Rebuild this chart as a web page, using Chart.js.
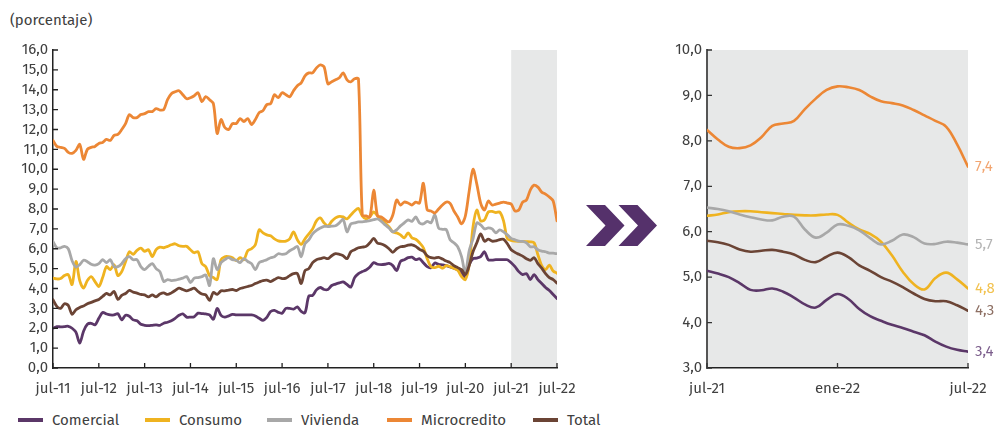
<!DOCTYPE html>
<html><head><meta charset="utf-8">
<script src="https://cdn.jsdelivr.net/npm/chart.js@4/dist/chart.umd.min.js"></script>
<style>
html,body{margin:0;padding:0;background:#fff;}
body{width:997px;height:427px;position:relative;overflow:hidden;font-family:"Fira Sans","Noto Sans",sans-serif;color:#404040;}
#unit{position:absolute;left:10px;top:11px;font-size:15px;line-height:18px;white-space:nowrap;}
#cl{position:absolute;left:0;top:0;}
#cr{position:absolute;left:640px;top:0;}
#legend{position:absolute;left:0;top:410px;height:20px;width:997px;font-size:15px;}
.item{position:absolute;top:0;height:20px;line-height:20px;white-space:nowrap;}
.sw{position:absolute;top:8px;left:0;width:25px;height:4px;}
.tx{position:absolute;top:0;left:34px;}
#chev{position:absolute;left:0;top:0;}
</style></head><body>
<div id="unit">(porcentaje)</div>
<svg id="chev" width="997" height="427">
<polygon points="586,205 605,205 624.5,225.5 605,246 586,246 605.5,225.5" fill="#55316b"/>
<polygon points="618.5,205 637.5,205 657,225.5 637.5,246 618.5,246 638,225.5" fill="#55316b"/>
</svg>
<canvas id="cl" width="595" height="400"></canvas>
<canvas id="cr" width="357" height="400"></canvas>
<div id="legend"></div>
<script>
const leftTickLabels = ['jul-11','jul-12','jul-13','jul-14','jul-15','jul-16','jul-17','jul-18','jul-19','jul-20','jul-21','jul-22'];
const rightTickLabels = ['jul-21','ene-22','jul-22'];
const seriesNames = ['Comercial','Consumo','Vivienda','Microcredito','Total'];

// Monthly, jul-11 .. jul-22
const comercial = [
2.0,2.08,2.07,2.08,2.1,2.0,1.8,1.25,1.85,2.2,2.25,2.17,
2.5,2.79,2.72,2.67,2.67,2.73,2.42,2.65,2.6,2.42,2.38,2.2,
2.15,2.13,2.15,2.17,2.15,2.25,2.3,2.38,2.5,2.65,2.72,2.56,
2.56,2.58,2.76,2.74,2.72,2.67,2.45,3.0,2.65,2.56,2.62,2.7,
2.67,2.67,2.67,2.67,2.67,2.62,2.5,2.4,2.55,2.84,2.9,2.8,
2.76,3.0,3.0,2.96,3.08,2.85,2.78,3.62,3.65,3.93,4.05,3.95,
3.95,4.15,4.22,4.28,4.33,4.2,4.07,4.55,4.75,4.85,4.93,5.08,
5.3,5.22,5.2,5.22,5.26,5.15,4.9,5.36,5.45,5.55,5.58,5.45,
5.5,5.3,5.1,5.05,5.28,5.22,5.19,5.15,5.08,5.02,4.95,4.8,
4.55,5.2,5.5,5.53,5.6,5.85,5.45,5.43,5.45,5.45,5.45,5.45,
5.3,5.1,4.85,4.7,4.75,4.45,4.7,4.45,4.25,4.05,3.9,3.7,
3.5];
const consumo = [
4.52,4.48,4.5,4.65,4.7,4.2,5.36,4.4,4.02,4.4,4.6,4.35,
4.1,4.55,5.1,4.95,5.19,4.65,4.85,5.35,5.85,5.72,5.92,6.03,
5.87,5.95,5.6,5.95,6.08,6.05,6.12,6.2,6.25,6.15,6.12,6.12,
5.95,5.8,5.85,5.25,5.1,4.65,4.55,4.45,5.45,5.6,5.6,5.55,
5.4,5.55,5.45,5.9,6.0,6.2,6.95,6.8,6.7,6.65,6.5,6.4,
6.37,6.38,6.5,6.85,6.45,6.22,6.5,6.75,7.0,7.4,7.55,7.3,
7.15,7.38,7.55,7.63,7.6,7.5,7.7,7.9,8.03,7.65,7.5,7.62,
7.85,7.65,7.45,7.3,7.1,6.85,6.8,6.7,6.55,6.8,6.55,6.48,
6.3,6.05,5.5,5.1,5.05,5.12,5.02,5.15,5.1,5.02,4.92,4.6,
4.45,5.2,7.1,7.95,7.4,7.45,7.85,7.88,7.82,7.85,7.4,6.5,
6.42,6.38,6.37,6.37,6.36,6.35,6.3,5.7,5.15,4.95,5.18,4.88,
4.77];
const vivienda = [
6.37,6.05,6.05,6.12,6.0,5.4,5.08,5.2,5.42,5.35,5.22,5.18,
5.25,5.45,5.3,5.45,5.1,5.1,5.25,5.5,5.6,5.45,5.45,5.1,
4.95,5.12,5.25,5.0,4.85,4.35,4.45,4.4,4.42,4.47,4.52,4.6,
4.3,4.52,4.55,4.6,4.68,4.15,5.5,4.95,5.3,5.45,5.55,5.45,
5.42,5.3,5.5,5.36,5.25,4.95,5.3,5.38,5.45,5.55,5.6,5.75,
5.72,5.75,5.9,6.0,6.12,5.6,6.25,6.45,6.75,6.92,7.04,7.13,
7.12,7.14,7.16,7.3,7.48,6.85,7.25,7.3,7.35,7.35,7.38,7.42,
7.46,7.5,7.38,7.2,7.04,6.85,6.95,7.15,7.3,7.45,7.38,7.6,
7.3,7.25,7.38,7.3,7.7,7.04,6.98,6.96,6.45,6.3,6.1,5.6,
4.8,5.9,6.5,7.3,7.2,7.0,7.05,7.0,6.8,6.95,6.85,6.7,
6.52,6.45,6.38,6.37,6.3,6.1,6.1,5.95,5.88,5.85,5.78,5.78,
5.75];
const microcredito = [
11.45,11.15,11.1,11.05,10.85,10.8,10.95,11.25,10.5,11.0,11.1,11.15,
11.3,11.35,11.5,11.45,11.7,11.75,12.0,12.3,12.75,12.6,12.6,12.75,
12.8,12.9,12.9,13.05,12.98,13.0,13.5,13.8,13.9,13.95,13.75,13.55,
13.6,13.7,13.85,13.4,13.65,13.5,13.3,11.8,12.5,12.1,12.0,12.3,
12.3,12.55,12.4,12.55,12.25,12.5,12.85,12.95,13.25,13.3,13.75,13.6,
13.85,13.75,13.65,13.95,14.2,14.35,14.7,14.85,14.85,15.1,15.25,15.15,
14.3,14.4,14.5,14.6,14.85,14.5,14.4,14.55,14.55,7.7,7.65,7.6,
8.95,7.65,7.6,7.45,7.35,7.7,8.45,8.2,8.35,8.3,8.2,8.35,
8.3,9.3,7.95,7.9,7.8,8.0,8.2,8.35,8.28,7.9,7.6,7.25,
7.65,8.9,10.0,9.25,8.3,7.95,8.4,8.2,8.25,8.3,8.35,8.3,
8.25,7.9,7.95,8.35,8.45,8.95,9.2,9.1,8.85,8.75,8.6,8.4,
7.4];
const total = [
3.43,3.1,3.0,3.23,3.15,2.7,2.93,3.05,3.12,3.23,3.3,3.38,
3.45,3.6,3.75,3.68,3.85,3.45,3.65,3.75,3.9,3.82,3.77,3.7,
3.68,3.58,3.68,3.58,3.72,3.78,3.7,3.78,3.9,4.02,3.95,3.88,
3.95,4.02,3.85,3.72,3.68,3.4,3.8,3.7,3.88,3.88,3.92,3.95,
3.9,4.0,4.05,4.1,4.15,4.25,4.33,4.4,4.42,4.35,4.45,4.55,
4.5,4.52,4.65,4.75,4.75,4.25,4.9,5.0,5.3,5.45,5.5,5.55,
5.5,5.65,5.75,5.72,5.65,5.5,5.85,5.95,6.05,6.08,6.12,6.3,
6.52,6.28,6.24,6.15,6.0,5.82,6.0,6.1,6.12,6.18,6.2,6.12,
5.97,5.88,5.65,5.55,5.53,5.57,5.48,5.38,5.3,5.15,5.05,4.95,
4.7,5.15,5.85,6.3,6.75,6.38,6.48,6.38,6.4,6.46,6.48,6.25,
5.95,5.82,5.72,5.63,5.5,5.42,5.55,5.25,5.02,4.75,4.55,4.45,
4.27];

// Half-monthly, jul-21 .. jul-22 (right panel)
const comercialZoom = [5.14,5.08,5.0,4.87,4.72,4.71,4.75,4.68,4.55,4.4,4.33,4.5,4.63,4.52,4.3,4.14,4.04,3.95,3.88,3.8,3.72,3.58,3.47,3.4,3.36];
const consumoZoom = [6.35,6.38,6.43,6.45,6.45,6.43,6.41,6.39,6.37,6.36,6.36,6.38,6.37,6.2,6.05,5.95,5.78,5.48,5.12,4.85,4.73,4.98,5.1,4.95,4.75];
const viviendaZoom = [6.53,6.5,6.45,6.38,6.32,6.27,6.25,6.33,6.33,6.05,5.87,5.98,6.16,6.13,6.03,5.86,5.72,5.8,5.94,5.88,5.74,5.73,5.78,5.76,5.72];
const microcreditoZoom = [8.24,8.03,7.87,7.84,7.9,8.08,8.33,8.38,8.44,8.7,8.93,9.12,9.2,9.18,9.12,8.98,8.87,8.83,8.78,8.68,8.56,8.44,8.31,7.92,7.43];
const totalZoom = [5.8,5.77,5.71,5.61,5.56,5.58,5.6,5.56,5.5,5.38,5.33,5.45,5.54,5.44,5.26,5.14,5.0,4.9,4.78,4.64,4.52,4.47,4.47,4.38,4.26];
const endLabels = ['3,4','4,8','5,7','7,4','4,3'];

const colors = ['#5b3768','#efb320','#a8a8a8','#ec8735','#6b4435'];
const labelColors = ['#7c5e8c','#f2c24f','#b4b4b4','#f2a570','#8d6f63'];
const drawOrder = [5,4,3,2,1];
const legendX = [18,145,267,387,533];

Chart.defaults.font.family = '"Fira Sans","Noto Sans",sans-serif';
Chart.defaults.font.size = 15;
Chart.defaults.color = '#404040';

const toPts = arr => arr.map((v,i)=>({x:i,y:v}));
const fmt = v => Number(v).toFixed(1).replace('.',',');

const innerTicks = {
  id:'innerTicks',
  afterDatasetsDraw(chart,args,o){
    const ctx=chart.ctx, a=chart.chartArea, xs=chart.scales.x, ys=chart.scales.y;
    ctx.save(); ctx.strokeStyle=o.color; ctx.lineWidth=o.width; ctx.beginPath();
    xs.ticks.forEach(t=>{const p=xs.getPixelForValue(t.value); ctx.moveTo(p,a.bottom); ctx.lineTo(p,a.bottom-o.len);});
    ys.ticks.forEach(t=>{const p=ys.getPixelForValue(t.value); ctx.moveTo(a.left,p); ctx.lineTo(a.left+o.len,p);});
    ctx.stroke(); ctx.restore();
  }
};
const shade = {
  id:'shade',
  beforeDraw(chart,args,o){
    const ctx=chart.ctx, a=chart.chartArea, xs=chart.scales.x;
    const x0=xs.getPixelForValue(o.from), x1=xs.getPixelForValue(o.to);
    ctx.save(); ctx.fillStyle=o.color; ctx.fillRect(x0,a.top,x1-x0,a.bottom-a.top); ctx.restore();
  }
};
const endLabelPlugin = {
  id:'endLabel',
  afterDatasetsDraw(chart,args,o){
    const ctx=chart.ctx, a=chart.chartArea;
    ctx.save(); ctx.font='15px "Fira Sans","Noto Sans",sans-serif'; ctx.textBaseline='middle'; ctx.textAlign='left';
    chart.data.datasets.forEach((ds,i)=>{
      const meta=chart.getDatasetMeta(i); const pt=meta.data[meta.data.length-1];
      ctx.fillStyle=labelColors[i]; ctx.fillText(endLabels[i], a.right+7, pt.y);
    });
    ctx.restore();
  }
};

function makeDatasets(list, tension, w){
  return list.map((arr,i)=>({label:seriesNames[i], data:toPts(arr), borderColor:colors[i], backgroundColor:colors[i],
    borderWidth:w, pointRadius:0, tension:tension, fill:false, order:drawOrder[i], borderCapStyle:'round', borderJoinStyle:'round'}));
}
const fitX = s=>{s.height=32; s.paddingLeft=0; s.paddingRight=0;};

new Chart(document.getElementById('cl'), {
  type:'line',
  data:{datasets:makeDatasets([comercial,consumo,vivienda,microcredito,total],0.3,2.8)},
  options:{
    responsive:false, animation:false, events:[],
    layout:{padding:{left:0,right:38,top:50,bottom:0}},
    plugins:{legend:{display:false}, tooltip:{enabled:false},
      innerTicks:{color:'#222',width:1.3,len:5},
      shade:{from:120,to:132,color:'#e7e8e8'}},
    scales:{
      x:{type:'linear', min:0, max:132, grid:{display:false,drawTicks:false},
         border:{display:true,color:'#222',width:1.5},
         ticks:{stepSize:12, autoSkip:false, maxRotation:0, padding:12, callback:v=>leftTickLabels[v/12]},
         afterFit:fitX},
      y:{min:0, max:16, grid:{display:false,drawTicks:false},
         border:{display:true,color:'#222',width:1.5},
         ticks:{stepSize:1, autoSkip:false, padding:5, callback:v=>fmt(v)},
         afterFit:s=>{s.width=53;}}
    }
  },
  plugins:[shade, innerTicks]
});

new Chart(document.getElementById('cr'), {
  type:'line',
  data:{datasets:makeDatasets([comercialZoom,consumoZoom,viviendaZoom,microcreditoZoom,totalZoom],0.4,2.6)},
  options:{
    responsive:false, animation:false, events:[],
    layout:{padding:{left:0,right:29,top:50,bottom:0}},
    plugins:{legend:{display:false}, tooltip:{enabled:false},
      innerTicks:{color:'#333',width:1.3,len:5},
      shade:{from:0,to:24,color:'#e7e8e8'}},
    scales:{
      x:{type:'linear', min:0, max:24, grid:{display:false,drawTicks:false},
         border:{display:true,color:'#222',width:1.5},
         ticks:{stepSize:12, autoSkip:false, maxRotation:0, padding:12, callback:v=>rightTickLabels[v/12]},
         afterFit:fitX},
      y:{min:3, max:10, grid:{display:false,drawTicks:false},
         border:{display:true,color:'#555',width:2},
         ticks:{stepSize:1, autoSkip:false, padding:5, callback:v=>fmt(v)},
         afterFit:s=>{s.width=67;}}
    }
  },
  plugins:[shade, innerTicks, endLabelPlugin]
});

const lg=document.getElementById('legend');
seriesNames.forEach((n,i)=>{
  const d=document.createElement('div'); d.className='item'; d.style.left=legendX[i]+'px';
  const s=document.createElement('span'); s.className='sw'; s.style.background=colors[i];
  const t=document.createElement('span'); t.className='tx'; t.textContent=n;
  d.appendChild(s); d.appendChild(t); lg.appendChild(d);
});
</script>
</body></html>
